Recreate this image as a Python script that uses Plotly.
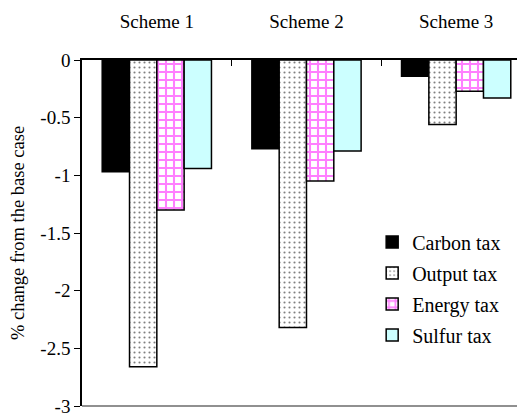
import plotly.graph_objects as go

schemes = ["Scheme 1", "Scheme 2", "Scheme 3"]
carbon_tax = [-0.97, -0.77, -0.14]
output_tax = [-2.66, -2.32, -0.56]
energy_tax = [-1.30, -1.05, -0.27]
sulfur_tax = [-0.94, -0.79, -0.33]
y_ticks = [0, -0.5, -1, -1.5, -2, -2.5, -3]
y_tick_labels = ["0", "-0.5", "-1", "-1.5", "-2", "-2.5", "-3"]

FONT = "Liberation Serif, Times New Roman, Times, serif"
outline = dict(color="black", width=1.5)

fig = go.Figure()
fig.add_trace(go.Bar(name="Carbon tax", x=schemes, y=carbon_tax, legendgroup="a",
                     marker=dict(color="black", line=outline)))
fig.add_trace(go.Bar(name="Output tax", x=schemes, y=output_tax, legendgroup="b",
                     marker=dict(color="white", line=outline,
                                 pattern=dict(shape=".", fgcolor="black", bgcolor="white",
                                              size=5, solidity=0.14))))
fig.add_trace(go.Bar(name="Energy tax", x=schemes, y=energy_tax, legendgroup="c",
                     marker=dict(color="white", line=outline,
                                 pattern=dict(shape="+", fgcolor="#FF00FF", bgcolor="white",
                                              size=8, solidity=0.45))))
fig.add_trace(go.Bar(name="Sulfur tax", x=schemes, y=sulfur_tax, legendgroup="d",
                     marker=dict(color="#CCFFFF", line=outline)))

fig.update_layout(
    width=517, height=409,
    margin=dict(l=74, r=0, t=52, b=6),
    paper_bgcolor="white", plot_bgcolor="white",
    barmode="group", bargap=0.27, bargroupgap=0,
    font=dict(family=FONT, size=19, color="black"),
    showlegend=True,
    legend=dict(x=0.655, y=0.53, xanchor="left", yanchor="top",
                font=dict(family=FONT, size=20), tracegroupgap=2,
                bgcolor="rgba(0,0,0,0)"),
    xaxis=dict(side="top", range=[-0.5, 2.46], showline=True, linecolor="black",
               linewidth=2, ticks="inside", ticklen=6, tickcolor="black",
               tickson="boundaries", showgrid=False, zeroline=False,
               ticklabelstandoff=22, tickfont=dict(family=FONT, size=19)),
    yaxis=dict(range=[-3, 0], tickvals=y_ticks, ticktext=y_tick_labels,
               showline=True, linecolor="black", linewidth=1.5, ticks="outside",
               ticklen=6, tickcolor="black", showgrid=False, zeroline=False,
               ticklabeloverflow="allow",
               tickfont=dict(family=FONT, size=19),
               title=dict(text="% change from the base case", standoff=14,
                          font=dict(family=FONT, size=18.5))),
    shapes=[dict(type="line", xref="paper", yref="paper", x0=0, x1=1, y0=0, y1=0,
                 line=dict(color="#909090", width=2))],
)

fig.write_html("out.html")
